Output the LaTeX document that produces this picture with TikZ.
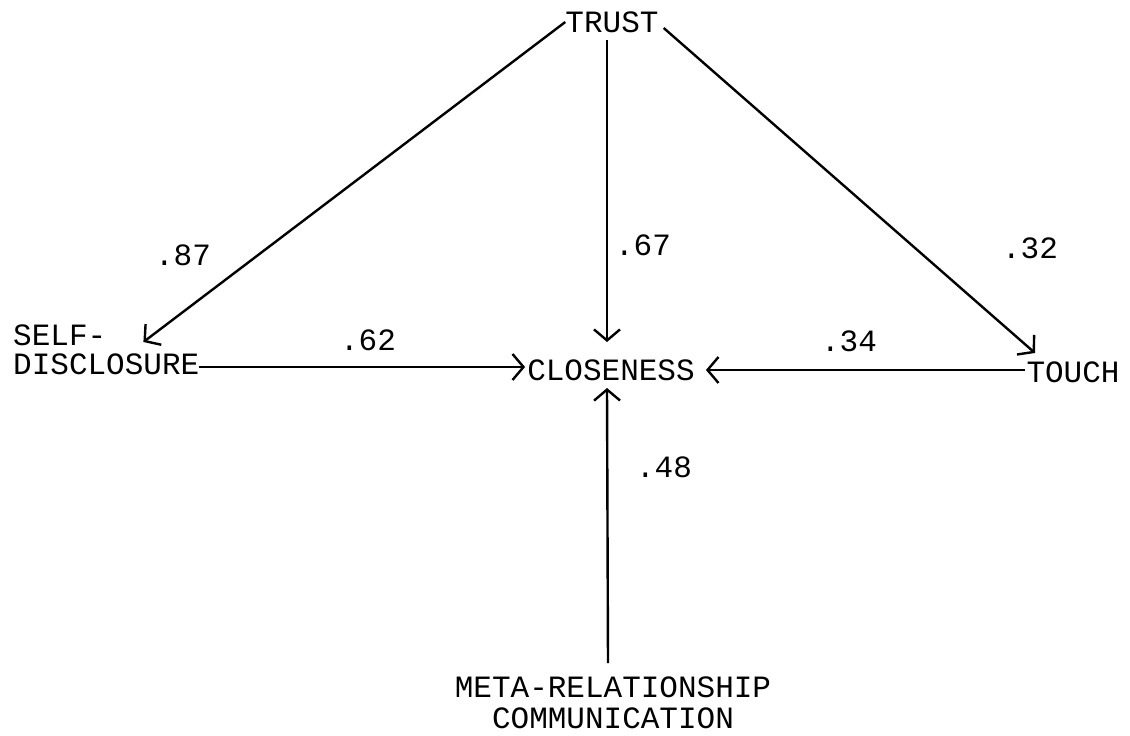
\documentclass[tikz,border=0pt]{standalone}
\usepackage{fontspec}
\setmonofont{Liberation Mono}
\usetikzlibrary{arrows.meta}
\tikzset{
  lbl/.style={inner sep=0pt, font=\ttfamily\fontsize{31}{31}\selectfont},
  num/.style={inner sep=0pt, font=\ttfamily\fontsize{31}{31}\selectfont},
  arr/.style={line width=2.4pt, -{Straight Barb[length=11pt,width=26pt,line width=2.4pt]}}
}
\begin{document}
\begin{tikzpicture}[x=1pt,y=-1pt]
\path[use as bounding box] (0,0) rectangle (1130,736);
% nodes
\node[lbl] (trust) at (612,22) {TRUST};
\node[lbl,anchor=west] (self) at (13,335) {SELF-};
\node[lbl,anchor=west] (disc) at (13,364) {DISCLOSURE};
\node[lbl] (clo) at (611,370) {CLOSENESS};
\node[lbl] (touch) at (1073,372) {TOUCH};
\node[lbl] (meta1) at (613,687) {META-RELATIONSHIP};
\node[lbl] (meta2) at (613,718) {COMMUNICATION};
% labels
\node[num] (l87) at (183,255) {.87};
\node[num] (l67) at (643,245) {.67};
\node[num] (l32) at (1030,248) {.32};
\node[num] (l62) at (368,340) {.62};
\node[num] (l34) at (849,341) {.34};
\node[num] (l48) at (664,467) {.48};
% connectors
\draw[arr] (trust.west) -- ([shift={(37,7)}]self.east);
\draw[arr] ([shift={(5,6)}]trust.east) -- ([shift={(-38,-19)}]touch.center);
\draw[arr] ([shift={(-5,18)}]trust.center) -- ([shift={(-4,-28)}]clo.center);
\draw[arr] ([shift={(0,3)}]disc.east) -- ([shift={(-2,-3)}]clo.west);
\draw[arr] ([shift={(-1,-2)}]touch.west) -- ([shift={(11,0)}]clo.east);
\draw[arr] ([shift={(-5,-24)}]meta1.center) -- ([shift={(-4,18)}]clo.center);
\end{tikzpicture}
\end{document}
